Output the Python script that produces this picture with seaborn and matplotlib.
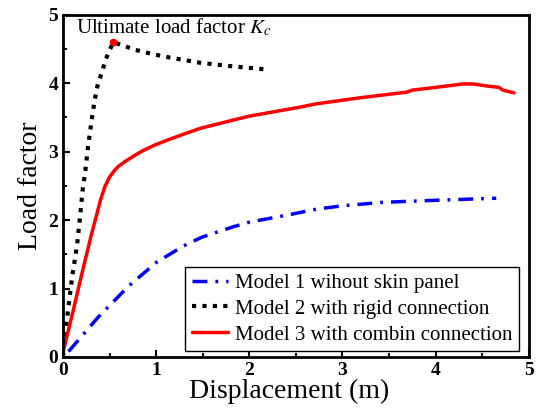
import matplotlib
matplotlib.use("Agg")
import matplotlib.pyplot as plt
import seaborn as sns
import pandas as pd
from matplotlib.ticker import MultipleLocator

# Model 1: without skin panel
m1_x = [0.06, 0.37, 0.70, 1.00, 1.29, 1.49, 1.82, 2.00, 2.43, 2.72, 3.00, 3.43, 4.00, 4.65]
m1_y = [0.08, 0.57, 1.03, 1.38, 1.62, 1.75, 1.90, 1.97, 2.08, 2.16, 2.21, 2.26, 2.29, 2.32]

# Model 2: rigid connection
m2_x = [0.00, 0.035, 0.065, 0.10, 0.15, 0.18, 0.21, 0.24, 0.27, 0.31, 0.34, 0.37, 0.42, 0.46, 0.50, 0.54,
        0.65, 0.77, 0.95, 1.13, 1.47, 1.80, 2.04, 2.20]
m2_y = [0.00, 0.45, 0.80, 1.18, 1.62, 2.00, 2.42, 2.72, 3.08, 3.48, 3.75, 3.96, 4.17, 4.35, 4.48, 4.60,
        4.55, 4.49, 4.43, 4.38, 4.30, 4.25, 4.22, 4.20]

# Model 3: combin connection
m3_x = [0.00, 0.10, 0.20, 0.30, 0.40, 0.45, 0.50, 0.55, 0.59, 0.66, 0.74, 0.85, 0.99, 1.18, 1.47, 1.82,
        2.00, 2.54, 2.72, 3.20, 3.69, 3.75, 4.00, 4.29, 4.40, 4.55, 4.68, 4.72, 4.84]
m3_y = [0.07, 0.62, 1.20, 1.76, 2.28, 2.49, 2.63, 2.72, 2.78, 2.85, 2.92, 3.01, 3.10, 3.20, 3.34, 3.46,
        3.52, 3.65, 3.70, 3.79, 3.87, 3.90, 3.94, 3.99, 3.99, 3.96, 3.94, 3.90, 3.86]

labels = ["Model 1 wihout skin panel", "Model 2 with rigid connection", "Model 3 with combin connection"]
peak_x = [0.54]
peak_y = [4.60]

sns.set_theme(style="ticks")
plt.rcParams["font.family"] = ["Liberation Serif", "DejaVu Serif"]
plt.rcParams["mathtext.fontset"] = "stix"
for k in ["text.color", "axes.labelcolor", "xtick.color", "ytick.color", "axes.edgecolor"]:
    plt.rcParams[k] = "black"

fig = plt.figure(figsize=(5.38, 4.12), dpi=100)
ax = fig.add_axes([0.117, 0.1335, 0.866, 0.8305])

d1 = pd.DataFrame({"x": m1_x, "y": m1_y})
d2 = pd.DataFrame({"x": m2_x, "y": m2_y})
d3 = pd.DataFrame({"x": m3_x, "y": m3_y})

sns.lineplot(data=d1, x="x", y="y", ax=ax, color="#0000ff", lw=2.5, label=labels[0], sort=False)
ax.lines[-1].set_dashes([4.3, 2.3, 0.8, 2.3])
sns.lineplot(data=d2, x="x", y="y", ax=ax, color="black", lw=3, label=labels[1], sort=False)
ax.lines[-1].set_dashes([1.0, 1.5])
sns.lineplot(data=d3, x="x", y="y", ax=ax, color="#ff0000", lw=2.5, label=labels[2], sort=False)
ax.plot(peak_x, peak_y, "o", color="#ff0000", ms=4.5, zorder=5)

ax.text(0.14, 4.81, "Ultimate load factor $K_c$", fontsize=15, va="center", ha="left")

ax.set_xlim(0, 5)
ax.set_ylim(0, 5)
ax.xaxis.set_major_locator(MultipleLocator(1))
ax.xaxis.set_minor_locator(MultipleLocator(0.5))
ax.yaxis.set_major_locator(MultipleLocator(1))
ax.yaxis.set_minor_locator(MultipleLocator(0.5))
ax.tick_params(which="both", direction="in", width=1.5, labelsize=14)
ax.tick_params(which="major", length=5)
ax.tick_params(which="minor", length=3)
for lab in ax.get_xticklabels() + ax.get_yticklabels():
    lab.set_fontweight("bold")
for s in ax.spines.values():
    s.set_linewidth(2)
    s.set_visible(True)
ax.set_xlabel("Displacement (m)", fontsize=20, labelpad=2)
ax.xaxis.set_label_coords(0.485, -0.065, transform=ax.transAxes)
ax.xaxis.label.set_va("top")
ax.set_ylabel("Load factor", fontsize=20, labelpad=4)

leg = ax.legend(loc="lower right", fontsize=15, frameon=True, fancybox=False,
                edgecolor="black", framealpha=1, handlelength=1.75, borderpad=0.3,
                labelspacing=0.3, handletextpad=0.35, borderaxespad=0,
                bbox_to_anchor=(0.979, 0.018))
leg.get_frame().set_linewidth(1)

fig.savefig("out.png", dpi=100)
